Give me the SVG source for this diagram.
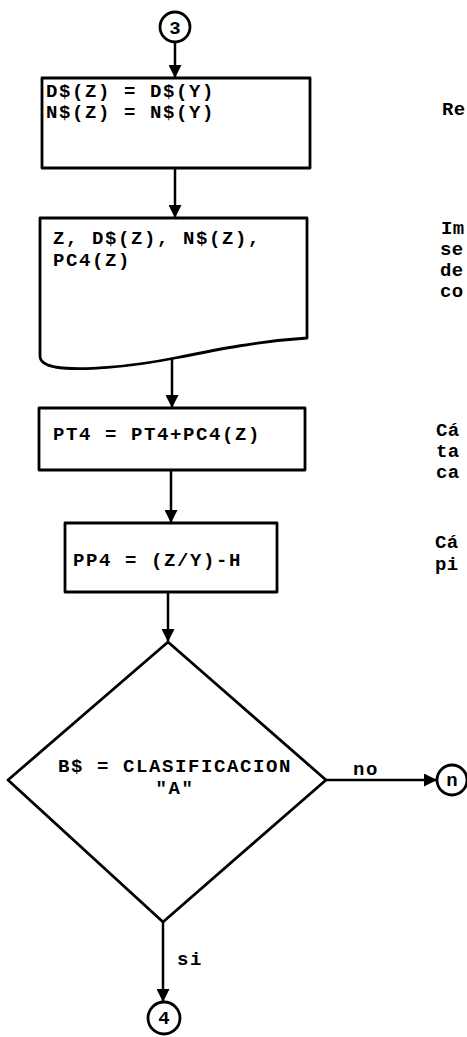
<svg xmlns="http://www.w3.org/2000/svg" width="467" height="1037" viewBox="0 0 467 1037">
<defs>
<style>
.s{fill:none;stroke:#000;stroke-width:2.8;stroke-linejoin:round}
.t{font-family:"Liberation Mono","DejaVu Sans Mono",monospace;font-weight:bold;font-size:19px;letter-spacing:1.6px;fill:#000}
.n{letter-spacing:0.4px}
.c{stroke:#000;stroke-width:2.5;fill:none}
</style>
<marker id="ah" markerWidth="13" markerHeight="13" refX="12" refY="6.5" orient="auto" markerUnits="userSpaceOnUse">
<path d="M0,0 L13,6.5 L0,13 Z" fill="#000"/>
</marker>
</defs>
<rect width="467" height="1037" fill="#fff"/>
<g id="connectors">
<line class="c" x1="175" y1="42" x2="175" y2="77" marker-end="url(#ah)"/>
<line class="c" x1="175" y1="168" x2="175" y2="217" marker-end="url(#ah)"/>
<line class="c" x1="172" y1="358" x2="172" y2="407" marker-end="url(#ah)"/>
<line class="c" x1="171" y1="470" x2="171" y2="522" marker-end="url(#ah)"/>
<line class="c" x1="168" y1="592" x2="168" y2="641" marker-end="url(#ah)"/>
<line class="c" x1="326" y1="780" x2="436" y2="780" marker-end="url(#ah)"/>
<line class="c" x1="163" y1="922" x2="163" y2="1001" marker-end="url(#ah)"/>
<text class="t" x="353" y="775">no</text>
<text class="t" x="177" y="965">si</text>
</g>
<g id="c3">
<circle class="s" cx="175" cy="27" r="15"/>
<text class="t" x="175" y="34" text-anchor="middle" style="letter-spacing:0">3</text>
</g>
<g id="box1">
<rect class="s" x="42" y="78" width="268" height="90"/>
<text class="t" x="46" y="97">D$(Z) = D$(Y)</text>
<text class="t" x="46" y="118">N$(Z) = N$(Y)</text>
</g>
<g id="doc">
<path class="s" d="M40,218 H307 V338 C260,341 220,349 175,358 C130,367 80,371 55,367 Q40,364 40,356 Z"/>
<text class="t" x="53" y="244">Z, D$(Z), N$(Z),</text>
<text class="t" x="53" y="266">PC4(Z)</text>
</g>
<g id="box3">
<rect class="s" x="39" y="408" width="266" height="62"/>
<text class="t" x="53" y="440">PT4 = PT4+PC4(Z)</text>
</g>
<g id="box4">
<rect class="s" x="65" y="523" width="212" height="69"/>
<text class="t" x="73" y="566">PP4 = (Z/Y)-H</text>
</g>
<g id="decision">
<polygon class="s" points="168,642 326,780 163,922 8,780"/>
<text class="t" x="58" y="772">B$ = CLASIFICACION</text>
<text class="t" x="175" y="794" text-anchor="middle">"A"</text>
</g>
<g id="cn">
<circle class="s" cx="452" cy="780" r="15"/>
<text class="t" x="452" y="786" text-anchor="middle" style="letter-spacing:0">n</text>
</g>
<g id="c4">
<circle class="s" cx="164" cy="1018" r="16"/>
<text class="t" x="164" y="1024" text-anchor="middle" style="letter-spacing:0">4</text>
</g>
<g id="notes">
<text class="t n" x="442" y="115">Re</text>
<text class="t n" x="441" y="234">Im</text>
<text class="t n" x="440" y="255">se</text>
<text class="t n" x="440" y="276">de</text>
<text class="t n" x="440" y="297">co</text>
<text class="t n" x="436" y="436">Cá</text>
<text class="t n" x="436" y="457">ta</text>
<text class="t n" x="436" y="478">ca</text>
<text class="t n" x="435" y="548">Cá</text>
<text class="t n" x="435" y="570">pi</text>
</g>
</svg>
